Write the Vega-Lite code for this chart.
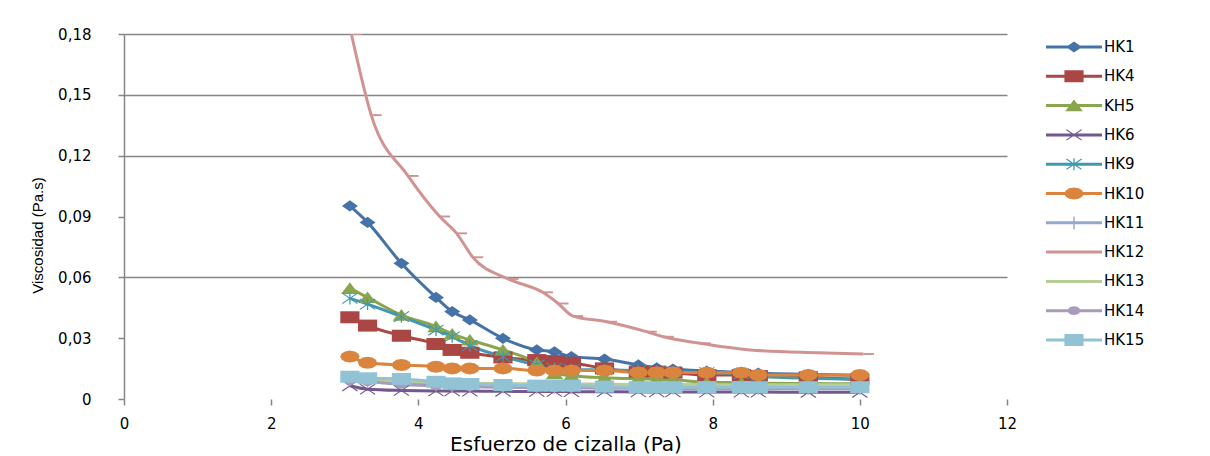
{
"$schema":"https://vega.github.io/schema/vega-lite/v6.json",
"width":883,"height":365,"autosize":"none",
"padding":{"left":124,"top":34,"right":203,"bottom":57},
"background":"white",
"config":{"view":{"stroke":null}},
"datasets":{"d":[
{"s":"HK1","x":3.07,"y":0.0952},{"s":"HK1","x":3.31,"y":0.0871},{"s":"HK1","x":3.77,"y":0.0669},{"s":"HK1","x":4.24,"y":0.0501},{"s":"HK1","x":4.46,"y":0.0431},{"s":"HK1","x":4.70,"y":0.0390},{"s":"HK1","x":5.15,"y":0.0299},{"s":"HK1","x":5.61,"y":0.0242},{"s":"HK1","x":5.85,"y":0.0233},{"s":"HK1","x":6.08,"y":0.0209},{"s":"HK1","x":6.53,"y":0.0197},{"s":"HK1","x":6.99,"y":0.0168},{"s":"HK1","x":7.24,"y":0.0154},{"s":"HK1","x":7.46,"y":0.0148},{"s":"HK1","x":7.92,"y":0.0138},{"s":"HK1","x":8.39,"y":0.0132},{"s":"HK1","x":8.62,"y":0.0128},{"s":"HK1","x":9.30,"y":0.0122},{"s":"HK1","x":10.0,"y":0.0116},
{"s":"HK4","x":3.07,"y":0.0403},{"s":"HK4","x":3.31,"y":0.0362},{"s":"HK4","x":3.77,"y":0.0312},{"s":"HK4","x":4.24,"y":0.0271},{"s":"HK4","x":4.46,"y":0.0242},{"s":"HK4","x":4.70,"y":0.0228},{"s":"HK4","x":5.15,"y":0.0205},{"s":"HK4","x":5.61,"y":0.0192},{"s":"HK4","x":5.85,"y":0.0187},{"s":"HK4","x":6.08,"y":0.0179},{"s":"HK4","x":6.53,"y":0.0151},{"s":"HK4","x":6.99,"y":0.0135},{"s":"HK4","x":7.24,"y":0.0135},{"s":"HK4","x":7.46,"y":0.0130},{"s":"HK4","x":7.92,"y":0.0118},{"s":"HK4","x":8.39,"y":0.0118},{"s":"HK4","x":8.62,"y":0.0113},{"s":"HK4","x":9.30,"y":0.0107},{"s":"HK4","x":10.0,"y":0.0097},
{"s":"KH5","x":3.07,"y":0.0546},{"s":"KH5","x":3.31,"y":0.0501},{"s":"KH5","x":3.77,"y":0.0414},{"s":"KH5","x":4.24,"y":0.0357},{"s":"KH5","x":4.46,"y":0.0321},{"s":"KH5","x":4.70,"y":0.0291},{"s":"KH5","x":5.15,"y":0.0242},{"s":"KH5","x":5.61,"y":0.0180},{"s":"KH5","x":5.85,"y":0.0125},{"s":"KH5","x":6.08,"y":0.0115},{"s":"KH5","x":6.53,"y":0.0105},{"s":"KH5","x":6.99,"y":0.0100},{"s":"KH5","x":7.24,"y":0.0098},{"s":"KH5","x":7.46,"y":0.0095},{"s":"KH5","x":7.92,"y":0.0082},{"s":"KH5","x":8.39,"y":0.0080},{"s":"KH5","x":8.62,"y":0.0078},{"s":"KH5","x":9.30,"y":0.0076},{"s":"KH5","x":10.0,"y":0.0075},
{"s":"HK6","x":3.07,"y":0.0065},{"s":"HK6","x":3.31,"y":0.0048},{"s":"HK6","x":3.77,"y":0.0042},{"s":"HK6","x":4.24,"y":0.0040},{"s":"HK6","x":4.46,"y":0.0040},{"s":"HK6","x":4.70,"y":0.0039},{"s":"HK6","x":5.15,"y":0.0038},{"s":"HK6","x":5.61,"y":0.0037},{"s":"HK6","x":5.85,"y":0.0037},{"s":"HK6","x":6.08,"y":0.0036},{"s":"HK6","x":6.53,"y":0.0036},{"s":"HK6","x":6.99,"y":0.0035},{"s":"HK6","x":7.24,"y":0.0035},{"s":"HK6","x":7.46,"y":0.0035},{"s":"HK6","x":7.92,"y":0.0034},{"s":"HK6","x":8.39,"y":0.0034},{"s":"HK6","x":8.62,"y":0.0034},{"s":"HK6","x":9.30,"y":0.0033},{"s":"HK6","x":10.0,"y":0.0033},
{"s":"HK9","x":3.07,"y":0.0496},{"s":"HK9","x":3.31,"y":0.0468},{"s":"HK9","x":3.77,"y":0.0406},{"s":"HK9","x":4.24,"y":0.0340},{"s":"HK9","x":4.46,"y":0.0307},{"s":"HK9","x":4.70,"y":0.0263},{"s":"HK9","x":5.15,"y":0.0209},{"s":"HK9","x":5.61,"y":0.0168},{"s":"HK9","x":5.85,"y":0.0151},{"s":"HK9","x":6.08,"y":0.0145},{"s":"HK9","x":6.53,"y":0.0143},{"s":"HK9","x":6.99,"y":0.0140},{"s":"HK9","x":7.24,"y":0.0138},{"s":"HK9","x":7.46,"y":0.0135},{"s":"HK9","x":7.92,"y":0.0130},{"s":"HK9","x":8.39,"y":0.0125},{"s":"HK9","x":8.62,"y":0.0112},{"s":"HK9","x":9.30,"y":0.0102},{"s":"HK9","x":10.0,"y":0.0098},
{"s":"HK10","x":3.07,"y":0.0209},{"s":"HK10","x":3.31,"y":0.0179},{"s":"HK10","x":3.77,"y":0.0168},{"s":"HK10","x":4.24,"y":0.0159},{"s":"HK10","x":4.46,"y":0.0151},{"s":"HK10","x":4.70,"y":0.0151},{"s":"HK10","x":5.15,"y":0.0151},{"s":"HK10","x":5.61,"y":0.0140},{"s":"HK10","x":5.85,"y":0.0140},{"s":"HK10","x":6.08,"y":0.0140},{"s":"HK10","x":6.53,"y":0.0140},{"s":"HK10","x":6.99,"y":0.0131},{"s":"HK10","x":7.24,"y":0.0131},{"s":"HK10","x":7.46,"y":0.0131},{"s":"HK10","x":7.92,"y":0.0130},{"s":"HK10","x":8.39,"y":0.0130},{"s":"HK10","x":8.62,"y":0.0118},{"s":"HK10","x":9.30,"y":0.0118},{"s":"HK10","x":10.0,"y":0.0118},
{"s":"HK11","x":3.07,"y":0.0095},{"s":"HK11","x":3.31,"y":0.0088},{"s":"HK11","x":3.77,"y":0.0078},{"s":"HK11","x":4.24,"y":0.0070},{"s":"HK11","x":4.46,"y":0.0066},{"s":"HK11","x":4.70,"y":0.0063},{"s":"HK11","x":5.15,"y":0.0060},{"s":"HK11","x":5.61,"y":0.0058},{"s":"HK11","x":5.85,"y":0.0057},{"s":"HK11","x":6.08,"y":0.0057},{"s":"HK11","x":6.53,"y":0.0056},{"s":"HK11","x":6.99,"y":0.0055},{"s":"HK11","x":7.24,"y":0.0055},{"s":"HK11","x":7.46,"y":0.0054},{"s":"HK11","x":7.92,"y":0.0054},{"s":"HK11","x":8.39,"y":0.0053},{"s":"HK11","x":8.62,"y":0.0053},{"s":"HK11","x":9.30,"y":0.0052},{"s":"HK11","x":10.0,"y":0.0052},
{"s":"HK12","x":3.09,"y":0.180},{"s":"HK12","x":3.36,"y":0.140},{"s":"HK12","x":3.86,"y":0.110},{"s":"HK12","x":4.29,"y":0.090},{"s":"HK12","x":4.52,"y":0.0817},{"s":"HK12","x":4.74,"y":0.0699},{"s":"HK12","x":5.22,"y":0.0592},{"s":"HK12","x":5.69,"y":0.0526},{"s":"HK12","x":5.90,"y":0.0471},{"s":"HK12","x":6.10,"y":0.0409},{"s":"HK12","x":6.56,"y":0.0381},{"s":"HK12","x":7.10,"y":0.0332},{"s":"HK12","x":7.33,"y":0.0307},{"s":"HK12","x":7.83,"y":0.0275},{"s":"HK12","x":8.51,"y":0.0242},{"s":"HK12","x":9.41,"y":0.0228},{"s":"HK12","x":10.05,"y":0.0222},
{"s":"HK13","x":3.07,"y":0.0105},{"s":"HK13","x":3.31,"y":0.0095},{"s":"HK13","x":3.77,"y":0.0088},{"s":"HK13","x":4.24,"y":0.0082},{"s":"HK13","x":4.46,"y":0.0080},{"s":"HK13","x":4.70,"y":0.0078},{"s":"HK13","x":5.15,"y":0.0076},{"s":"HK13","x":5.61,"y":0.0075},{"s":"HK13","x":5.85,"y":0.0074},{"s":"HK13","x":6.08,"y":0.0074},{"s":"HK13","x":6.53,"y":0.0073},{"s":"HK13","x":6.99,"y":0.0072},{"s":"HK13","x":7.24,"y":0.0072},{"s":"HK13","x":7.46,"y":0.0071},{"s":"HK13","x":7.92,"y":0.0071},{"s":"HK13","x":8.39,"y":0.0070},{"s":"HK13","x":8.62,"y":0.0070},{"s":"HK13","x":9.30,"y":0.0070},{"s":"HK13","x":10.0,"y":0.0070},
{"s":"HK14","x":3.07,"y":0.0090},{"s":"HK14","x":3.31,"y":0.0085},{"s":"HK14","x":3.77,"y":0.0072},{"s":"HK14","x":4.24,"y":0.0065},{"s":"HK14","x":4.46,"y":0.0062},{"s":"HK14","x":4.70,"y":0.0060},{"s":"HK14","x":5.15,"y":0.0058},{"s":"HK14","x":5.61,"y":0.0056},{"s":"HK14","x":5.85,"y":0.0055},{"s":"HK14","x":6.08,"y":0.0055},{"s":"HK14","x":6.53,"y":0.0054},{"s":"HK14","x":6.99,"y":0.0053},{"s":"HK14","x":7.24,"y":0.0053},{"s":"HK14","x":7.46,"y":0.0052},{"s":"HK14","x":7.92,"y":0.0052},{"s":"HK14","x":8.39,"y":0.0051},{"s":"HK14","x":8.62,"y":0.0051},{"s":"HK14","x":9.30,"y":0.0050},{"s":"HK14","x":10.0,"y":0.0050},
{"s":"HK15","x":3.07,"y":0.0110},{"s":"HK15","x":3.31,"y":0.0102},{"s":"HK15","x":3.77,"y":0.0099},{"s":"HK15","x":4.24,"y":0.0085},{"s":"HK15","x":4.46,"y":0.0077},{"s":"HK15","x":4.70,"y":0.0074},{"s":"HK15","x":5.15,"y":0.0069},{"s":"HK15","x":5.61,"y":0.0066},{"s":"HK15","x":5.85,"y":0.0066},{"s":"HK15","x":6.08,"y":0.0066},{"s":"HK15","x":6.53,"y":0.0061},{"s":"HK15","x":6.99,"y":0.0058},{"s":"HK15","x":7.24,"y":0.0058},{"s":"HK15","x":7.46,"y":0.0058},{"s":"HK15","x":7.92,"y":0.0058},{"s":"HK15","x":8.39,"y":0.0058},{"s":"HK15","x":8.62,"y":0.0058},{"s":"HK15","x":9.30,"y":0.0058},{"s":"HK15","x":10.0,"y":0.0058}
]},
"data":{"name":"d"},
"encoding":{
"x":{"field":"x","type":"quantitative","scale":{"domain":[0,12],"nice":false,"zero":false},
 "axis":{"values":[0,2,4,6,8,10,12],"domain":false,"grid":false,"tickColor":"#868686","tickWidth":1.5,"tickSize":6,"labelFont":"DejaVu Sans","labelFontSize":15,"labelColor":"#000","labelPadding":11,"labelFlush":false,"title":"Esfuerzo de cizalla (Pa)","titleFont":"DejaVu Sans","titleFontSize":20,"titleFontWeight":"normal","titleColor":"#000","titlePadding":3}},
"y":{"field":"y","type":"quantitative","scale":{"domain":[0,0.18],"nice":false},
 "axis":{"values":[0,0.03,0.06,0.09,0.12,0.15,0.18],"labelExpr":"datum.value == 0 ? '0' : replace(format(datum.value, '.2f'), '.', ',')","domainColor":"#868686","domainWidth":1.5,"tickColor":"#868686","tickWidth":1.5,"tickSize":6,"grid":true,"gridColor":"#868686","gridWidth":1.5,"gridOpacity":{"condition":{"test":"datum.value < 0.001 || abs(datum.value-0.09) < 0.001 || abs(datum.value-0.03) < 0.001","value":0},"value":1},"labelFont":"DejaVu Sans","labelFontSize":15,"labelColor":"#000","labelPadding":27,"title":"Viscosidad (Pa.s)","titleFont":"Liberation Sans","titleFontSize":15,"titleFontWeight":"normal","titleColor":"#000","titlePadding":12,"titleY":201}},
"color":{"field":"s","type":"nominal",
 "scale":{"domain":["HK1","HK4","KH5","HK6","HK9","HK10","HK11","HK12","HK13","HK14","HK15"],"range":["#4572A7","#AA4643","#89A54E","#71588F","#4198AF","#DB843D","#93A9CF","#D19392","#B9CD96","#A99BBD","#92C3D5"]},
 "legend":{"title":null,"orient":"none","legendX":942,"legendY":5,"padding":0,"symbolSize":256,"symbolStrokeWidth":0,"labelFont":"DejaVu Sans","labelFontSize":15,"labelColor":"#000","labelOffset":22,"rowPadding":13.3,
  "encode":{"symbols":{"update":{
   "shape":{"signal":"['M-3.5,-0.19H3.5V0.19H-3.5Z M0,-0.7L1,0L0,0.7L-1,0Z','M-3.5,-0.19H3.5V0.19H-3.5Z M-1.2,-0.75H1.2V0.75H-1.2Z','M-3.5,-0.19H3.5V0.19H-3.5Z M0,-0.75L1.1,0.7H-1.1Z','M-3.5,-0.19H3.5V0.19H-3.5Z M-1,-0.6L-0.9,-0.7L1,0.6L0.9,0.7Z M0.9,-0.7L1,-0.6L-0.9,0.7L-1,0.6Z','M-3.5,-0.19H3.5V0.19H-3.5Z M-1,-0.6L-0.9,-0.7L1,0.6L0.9,0.7Z M0.9,-0.7L1,-0.6L-0.9,0.7L-1,0.6Z M-0.08,-0.75H0.08V0.75H-0.08Z','M-3.5,-0.19H3.5V0.19H-3.5Z M1.2,0L1.04,0.375L0.6,0.65L0,0.75L-0.6,0.65L-1.04,0.375L-1.2,0L-1.04,-0.375L-0.6,-0.65L0,-0.75L0.6,-0.65L1.04,-0.375Z','M-3.5,-0.19H3.5V0.19H-3.5Z M-0.09,-0.8H0.09V0.8H-0.09Z','M-3.5,-0.19H3.5V0.19H-3.5Z','M-3.5,-0.19H3.5V0.19H-3.5Z','M-3.5,-0.19H3.5V0.19H-3.5Z M0.8,0L0.69,0.275L0.4,0.48L0,0.55L-0.4,0.48L-0.69,0.275L-0.8,0L-0.69,-0.275L-0.4,-0.48L0,-0.55L0.4,-0.48L0.69,-0.275Z','M-3.5,-0.19H3.5V0.19H-3.5Z M-1.2,-0.75H1.2V0.75H-1.2Z'][indexof(['HK1','HK4','KH5','HK6','HK9','HK10','HK11','HK12','HK13','HK14','HK15'], datum.value)]"},
   "fill":{"scale":"color","field":"value"},
   "stroke":{"value":"transparent"},
   "strokeWidth":{"value":0},
   "opacity":{"value":1}}}}}}
},
"layer":[
{"mark":{"type":"line","strokeWidth":3,"interpolate":"monotone","clip":true}},
{"transform":[{"filter":"datum.s != 'HK13'"}],
 "mark":{"type":"point","filled":true,"opacity":1,"size":256,"strokeWidth":0,"clip":true},
 "encoding":{"shape":{"field":"s","type":"nominal","legend":null,
  "scale":{"domain":["HK1","HK4","KH5","HK6","HK9","HK10","HK11","HK12","HK14","HK15"],
  "range":["M0,-0.7L1,0L0,0.7L-1,0Z","M-1.2,-0.75H1.2V0.75H-1.2Z","M0,-0.75L1.1,0.7H-1.1Z","M-1,-0.6L-0.9,-0.7L1,0.6L0.9,0.7Z M0.9,-0.7L1,-0.6L-0.9,0.7L-1,0.6Z","M-1,-0.6L-0.9,-0.7L1,0.6L0.9,0.7Z M0.9,-0.7L1,-0.6L-0.9,0.7L-1,0.6Z M-0.08,-0.75H0.08V0.75H-0.08Z","M1.2,0L1.04,0.375L0.6,0.65L0,0.75L-0.6,0.65L-1.04,0.375L-1.2,0L-1.04,-0.375L-0.6,-0.65L0,-0.75L0.6,-0.65L1.04,-0.375Z","M-0.09,-0.8H0.09V0.8H-0.09Z M-0.9,-0.09H0.9V0.09H-0.9Z","M0,-0.12H1.3V0.12H0Z","M0.8,0L0.69,0.275L0.4,0.48L0,0.55L-0.4,0.48L-0.69,0.275L-0.8,0L-0.69,-0.275L-0.4,-0.48L0,-0.55L0.4,-0.48L0.69,-0.275Z","M-1.2,-0.75H1.2V0.75H-1.2Z"]}}}}
]
}
